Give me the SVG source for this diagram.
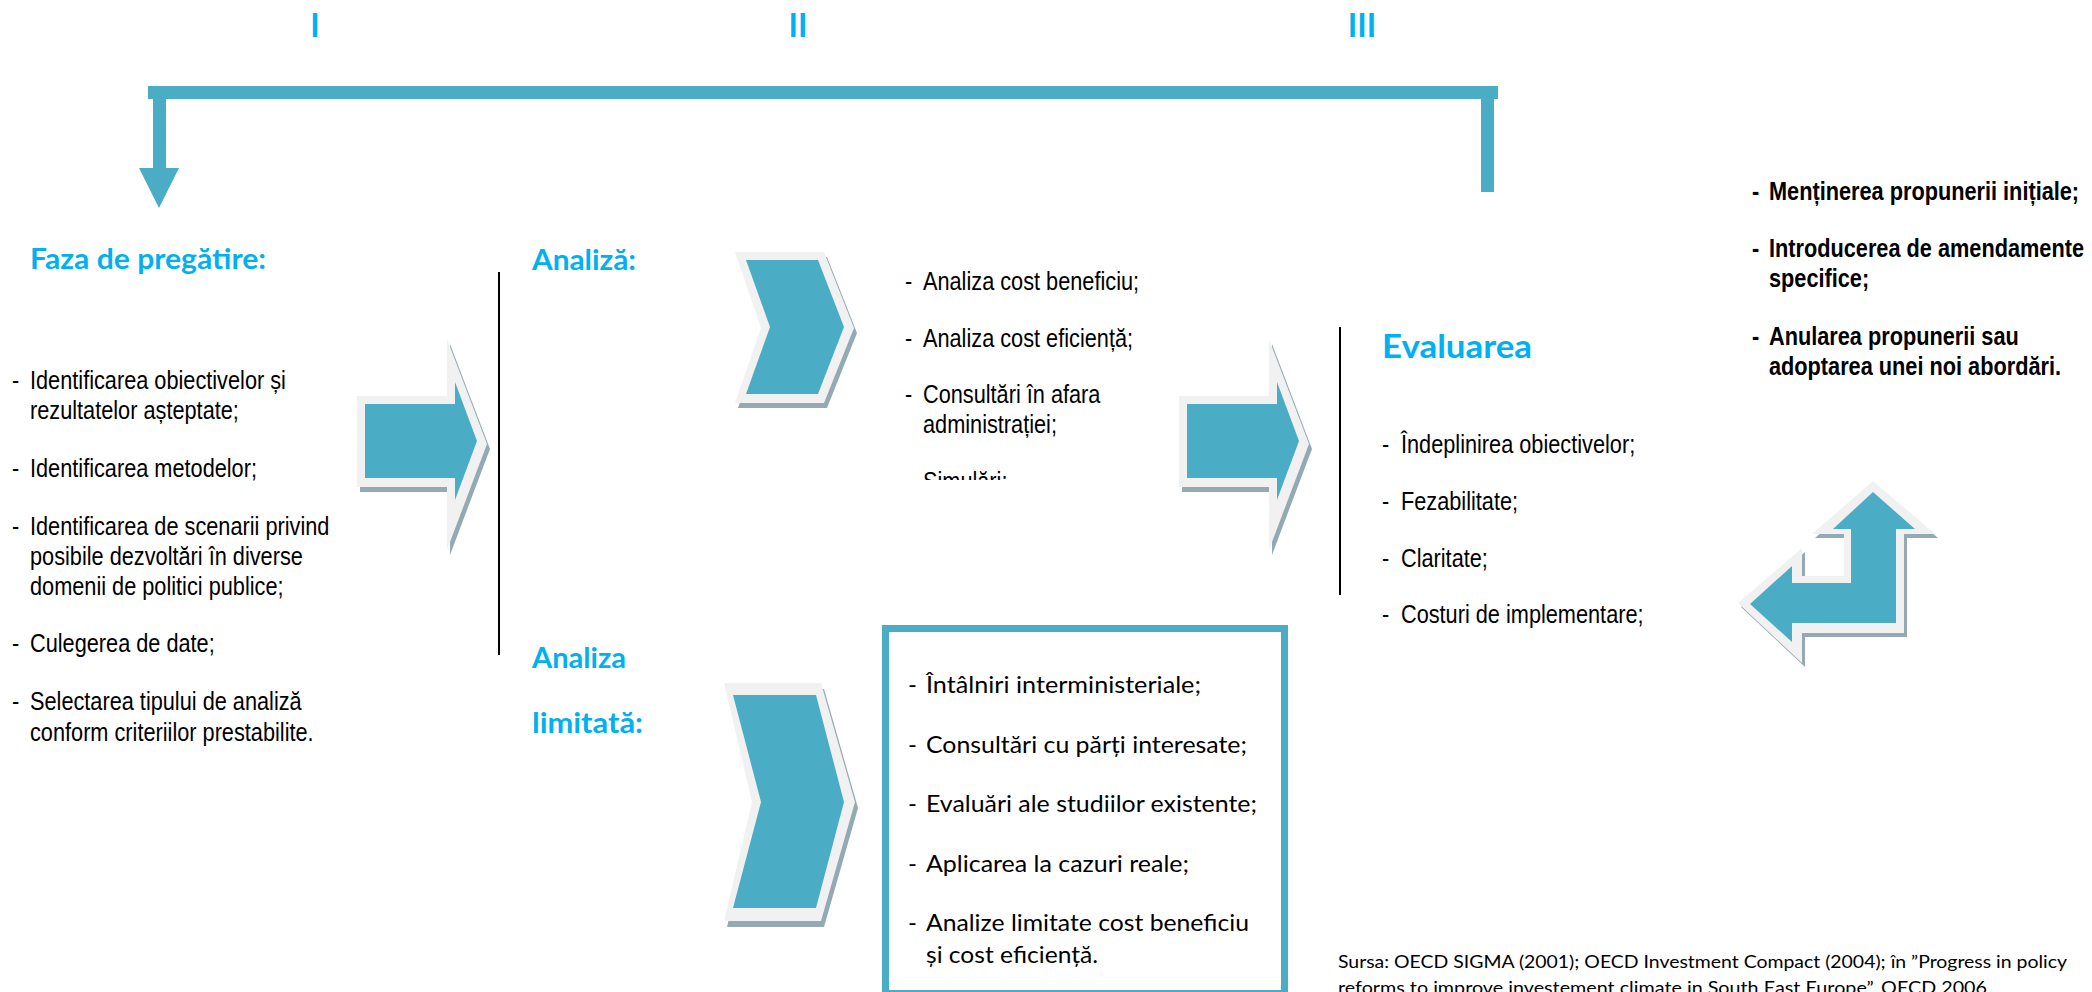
<svg xmlns="http://www.w3.org/2000/svg" width="2092" height="992" viewBox="0 0 2092 992">
<style>
.teal{fill:#4bacc6}
.bevel{fill:#f1f1f1}
.shadow{fill:#93aab4}
.head{font-family:Lato,'Open Sans',sans-serif;font-weight:bold;fill:#00b0f0}
.nar{font-family:'Liberation Sans',Arial,sans-serif;font-size:26.5px;fill:#000}
.nb{font-weight:bold}
.cal{font-family:Lato,'Open Sans',sans-serif;font-size:24px;fill:#000}
.src{font-family:Lato,'Open Sans',sans-serif;font-size:18px;fill:#000}
.sep{stroke:#000;stroke-width:2;fill:none}
</style>
<defs>
<clipPath id="clipSim"><rect x="0" y="0" width="3000" height="480"/></clipPath>
<g id="blockArrow">
<polygon class="shadow" points="360,401 450,401 450,344 490,449 450,555 450,492 360,492"/>
<polygon class="bevel" points="357,396 447,396 447,339 487,444 447,550 447,487 357,487"/>
<polygon class="teal" points="365,404 455,404 455,382 477,441 455,500 455,478 365,478"/>
</g>
</defs>
<rect width="2092" height="992" fill="#fff"/>

<g id="phase-labels" class="head" font-size="32" text-anchor="middle">
<text x="315" y="37">I</text>
<text x="798" y="37">II</text>
<text x="1362" y="37">III</text>
</g>

<g id="connectors">
<rect class="teal" x="148" y="86" width="1350" height="13"/>
<rect class="teal" x="153" y="99" width="13" height="70"/>
<polygon class="teal" points="139,168 179,168 159,208"/>
<rect class="teal" x="1481" y="99" width="13" height="93"/>
</g>

<g id="separators">
<line class="sep" x1="499" y1="272" x2="499" y2="655"/>
<line class="sep" x1="1340" y1="327" x2="1340" y2="595"/>
</g>

<g id="node-pregatire">
<text class="head" x="30" y="269" font-size="28.5" textLength="236" lengthAdjust="spacingAndGlyphs">Faza de pregătire:</text>
<g class="nar" transform="scale(0.82 1)">
<text x="14.6" y="389">-</text><text x="36.6" y="389">Identificarea obiectivelor și</text>
<text x="36.6" y="419">rezultatelor așteptate;</text>
<text x="14.6" y="477">-</text><text x="36.6" y="477">Identificarea metodelor;</text>
<text x="14.6" y="535">-</text><text x="36.6" y="535">Identificarea de scenarii privind</text>
<text x="36.6" y="565">posibile dezvoltări în diverse</text>
<text x="36.6" y="595">domenii de politici publice;</text>
<text x="14.6" y="652">-</text><text x="36.6" y="652">Culegerea de date;</text>
<text x="14.6" y="710">-</text><text x="36.6" y="710">Selectarea tipului de analiză</text>
<text x="36.6" y="741">conform criteriilor prestabilite.</text>
</g>
</g>

<g id="arrow-1"><use href="#blockArrow"/></g>
<g id="arrow-2"><use href="#blockArrow" transform="translate(822 0)"/></g>

<g id="node-analiza">
<text class="head" x="532" y="270" font-size="28.5" textLength="104" lengthAdjust="spacingAndGlyphs">Analiză:</text>
<polygon class="shadow" points="738,257 827,257 857,333 827,408 738,408 764,333"/>
<polygon class="bevel" points="735,252 824,252 854,328 824,403 735,403 761,328"/>
<polygon class="teal" points="746,260 818,260 844,327 818,394 746,394 770,327"/>
<g class="nar" transform="scale(0.82 1)">
<text x="1103.7" y="290">-</text><text x="1125.6" y="290">Analiza cost beneficiu;</text>
<text x="1103.7" y="347">-</text><text x="1125.6" y="347">Analiza cost eficiență;</text>
<text x="1103.7" y="403">-</text><text x="1125.6" y="403">Consultări în afara</text>
<text x="1125.6" y="433">administrației;</text>
<g clip-path="url(#clipSim)"><text x="1103.7" y="490">-</text><text x="1125.6" y="490">Simulări;</text></g>
</g>
</g>

<g id="node-analiza-limitata">
<text class="head" x="532" y="668" font-size="28.5" textLength="94" lengthAdjust="spacingAndGlyphs">Analiza</text>
<text class="head" x="532" y="733" font-size="28.5" textLength="111" lengthAdjust="spacingAndGlyphs">limitată:</text>
<polygon class="shadow" points="727,689 824,689 858,808 824,927 727,927 755,808"/>
<polygon class="bevel" points="724,683 821,683 855,802 821,921 724,921 752,802"/>
<polygon class="teal" points="733,695 816,695 844,802 816,908 733,908 761,802"/>
</g>

<g id="node-box">
<rect x="885.5" y="628.5" width="399" height="365" fill="#fff" stroke="#4bacc6" stroke-width="7"/>
<g class="cal">
<text x="908" y="693">-</text><text x="926" y="693" textLength="275" lengthAdjust="spacingAndGlyphs">Întâlniri interministeriale;</text>
<text x="908" y="753">-</text><text x="926" y="753" textLength="321" lengthAdjust="spacingAndGlyphs">Consultări cu părți interesate;</text>
<text x="908" y="812">-</text><text x="926" y="812" textLength="331" lengthAdjust="spacingAndGlyphs">Evaluări ale studiilor existente;</text>
<text x="908" y="872">-</text><text x="926" y="872" textLength="263" lengthAdjust="spacingAndGlyphs">Aplicarea la cazuri reale;</text>
<text x="908" y="931">-</text><text x="926" y="931" textLength="323" lengthAdjust="spacingAndGlyphs">Analize limitate cost beneficiu</text>
<text x="926" y="963" textLength="172" lengthAdjust="spacingAndGlyphs">și cost eficiență.</text>
</g>
</g>

<g id="node-evaluarea">
<text class="head" x="1382" y="358" font-size="32.5" textLength="150" lengthAdjust="spacingAndGlyphs">Evaluarea</text>
<g class="nar" transform="scale(0.82 1)">
<text x="1685.4" y="453">-</text><text x="1708.5" y="453">Îndeplinirea obiectivelor;</text>
<text x="1685.4" y="510">-</text><text x="1708.5" y="510">Fezabilitate;</text>
<text x="1685.4" y="567">-</text><text x="1708.5" y="567">Claritate;</text>
<text x="1685.4" y="623">-</text><text x="1708.5" y="623">Costuri de implementare;</text>
</g>
</g>

<g id="node-decizie">
<g class="nar nb" transform="scale(0.82 1)">
<text x="2136.6" y="200">-</text><text x="2157.3" y="200">Menținerea propunerii inițiale;</text>
<text x="2136.6" y="257">-</text><text x="2157.3" y="257">Introducerea de amendamente</text>
<text x="2157.3" y="287">specifice;</text>
<text x="2136.6" y="345">-</text><text x="2157.3" y="345">Anularea propunerii sau</text>
<text x="2157.3" y="375">adoptarea unei noi abordări.</text>
</g>
</g>

<g id="arrow-feedback">
<polygon class="shadow" points="1876,485 1938,538 1907,538 1907,637 1805,637 1805,667 1741,607 1805,552 1805,580 1847,580 1847,538 1815,538"/>
<polygon class="bevel" points="1873,481 1935,534 1904,534 1904,633 1802,633 1802,663 1738,603 1802,548 1802,576 1844,576 1844,534 1812,534"/>
<polygon class="teal" points="1873,492 1915,529 1896,529 1896,623 1792,623 1792,642 1750,604 1792,566 1792,583 1851,583 1851,529 1833,529"/>
</g>

<g id="source" class="src">
<text x="1338" y="968" textLength="729" lengthAdjust="spacingAndGlyphs">Sursa: OECD SIGMA (2001); OECD Investment Compact (2004); în ”Progress in policy</text>
<text x="1338" y="994" textLength="649" lengthAdjust="spacingAndGlyphs">reforms to improve investement climate in South East Europe”, OECD 2006</text>
</g>
</svg>
